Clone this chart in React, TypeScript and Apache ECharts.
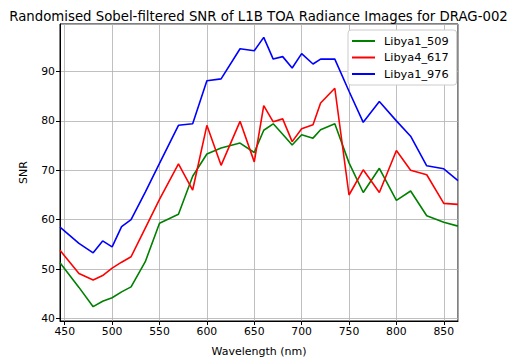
import React, { useEffect, useRef } from "react";
import * as echarts from "echarts";

const wavelengths = [445, 465, 480, 490, 500, 510, 520, 535, 550, 570, 585, 600, 615, 635, 650, 660, 670, 680, 690, 700, 712, 720, 735, 750, 765, 782, 800, 815, 832, 850, 865];

const libya1_509 = [51.3, 46.3, 42.4, 43.5, 44.2, 45.4, 46.4, 51.5, 59.3, 61.1, 68.8, 73.3, 74.5, 75.5, 73.6, 78.1, 79.4, 77.3, 75.1, 77.2, 76.5, 78.2, 79.4, 71.5, 65.5, 70.4, 63.9, 65.8, 60.8, 59.5, 58.7];

const libya4_617 = [53.8, 49.1, 47.8, 48.7, 50.2, 51.4, 52.5, 58.3, 64.1, 71.3, 66.0, 79.1, 71.0, 79.9, 71.7, 83.1, 79.8, 80.4, 75.8, 78.4, 79.2, 83.6, 86.6, 65.0, 70.1, 65.5, 74.0, 70.0, 69.1, 63.3, 63.1];

const libya1_976 = [58.5, 55.2, 53.3, 55.7, 54.5, 58.6, 60.0, 65.6, 71.4, 79.1, 79.4, 88.1, 88.5, 94.6, 94.2, 96.9, 92.5, 93.0, 90.7, 93.6, 91.5, 92.5, 92.5, 86.0, 79.7, 83.9, 80.0, 76.9, 70.9, 70.3, 67.9];

const seriesNames = ["Libya1_509", "Libya4_617", "Libya1_976"];
const seriesColors = ["#008000", "#ff0000", "#0000ff"];
const seriesValues = [libya1_509, libya4_617, libya1_976];

const FONT = "DejaVu Sans";

export default function App() {
  const ref = useRef<HTMLDivElement>(null);
  useEffect(() => {
    document.body.style.margin = "0";
    const chart = echarts.init(ref.current!, null, { renderer: "svg" });
    const axisCommon = {
      axisLine: { show: true, onZero: false, lineStyle: { color: "#000", width: 1 } },
      axisTick: { show: true, inside: false, length: 4, lineStyle: { color: "#000", width: 1 } },
      axisLabel: { color: "#000", fontSize: 10.8, fontFamily: FONT, showMinLabel: false, showMaxLabel: false },
      splitLine: { show: true, lineStyle: { color: "#b0b0b0", width: 0.8 } },
      nameTextStyle: { color: "#000", fontSize: 11, fontFamily: FONT },
      nameLocation: "middle" as const,
    };
    chart.setOption({
      animation: false,
      backgroundColor: "#fff",
      title: {
        text: "Randomised Sobel-filtered SNR of L1B TOA Radiance Images for DRAG-002",
        left: "center",
        top: 5,
        textStyle: { color: "#000", fontSize: 13.3, fontWeight: "normal", fontFamily: FONT },
      },
      grid: { left: 60, right: 59, top: 24, bottom: 43, show: true, borderColor: "#000", borderWidth: 1, backgroundColor: "transparent" },
      legend: {
        data: seriesNames,
        orient: "vertical",
        left: 348,
        top: 30,
        padding: [4, 8, 4, 4],
        itemGap: 2.5,
        itemWidth: 23,
        itemHeight: 2,
        icon: "rect",
        backgroundColor: "#fff",
        borderColor: "#cccccc",
        borderWidth: 1,
        borderRadius: 3,
        textStyle: { color: "#000", fontSize: 11.3, fontFamily: FONT, lineHeight: 14, padding: [0, 0, 0, 4] },
      },
      xAxis: {
        ...axisCommon,
        type: "value",
        min: 445,
        max: 865,
        splitNumber: 8,
        name: "Wavelength (nm)",
        nameGap: 25,
        axisLabel: { ...axisCommon.axisLabel, margin: 5 },
      },
      yAxis: {
        ...axisCommon,
        type: "value",
        min: 39.5,
        max: 99.6,
        splitNumber: 6,
        name: "SNR",
        nameGap: 31,
        axisLabel: { ...axisCommon.axisLabel, margin: 5 },
      },
      series: seriesNames.map((name, i) => ({
        name,
        type: "line",
        data: wavelengths.map((w, j) => [w, seriesValues[i][j]]),
        showSymbol: false,
        symbol: "none",
        lineStyle: { color: seriesColors[i], width: 1.6 },
        itemStyle: { color: seriesColors[i] },
      })),
    });
    return () => chart.dispose();
  }, []);
  return <div ref={ref} style={{ width: 517, height: 364 }} />;
}
